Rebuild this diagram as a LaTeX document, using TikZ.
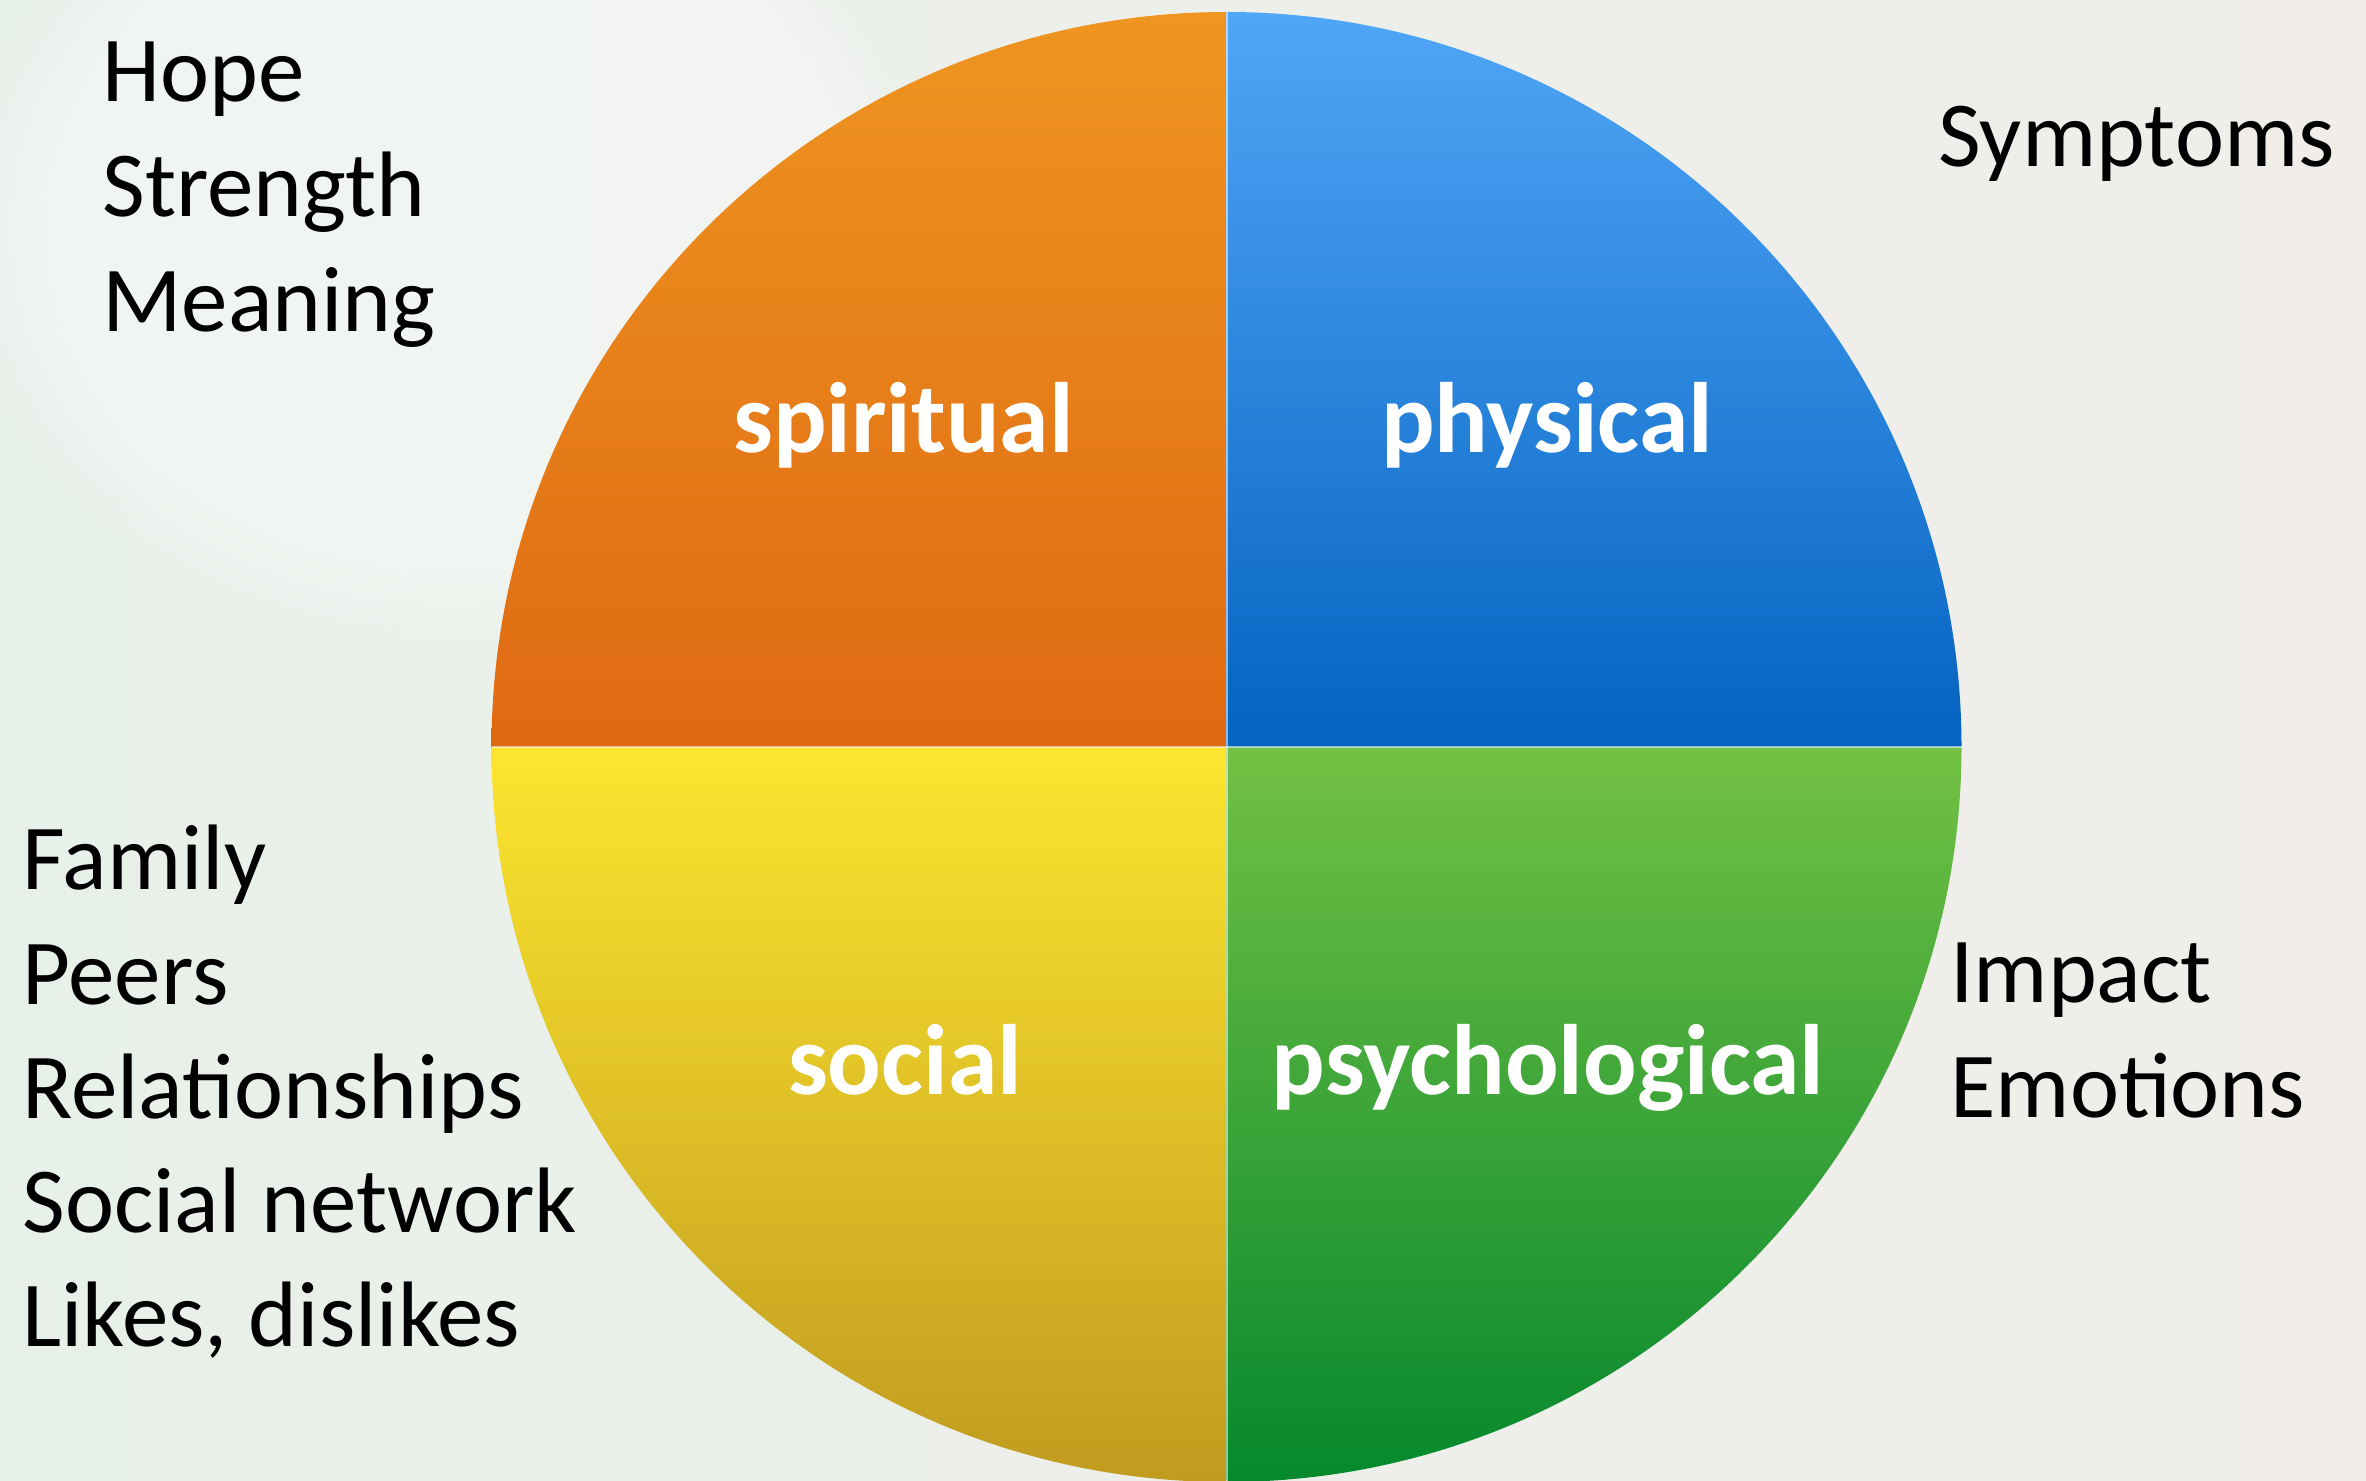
\documentclass[tikz,border=0pt]{standalone}
\usepackage{fontspec}
\setmainfont{Carlito}
\usetikzlibrary{calc,fadings}

\definecolor{bgA}{HTML}{E8F0EA}
\definecolor{bgB}{HTML}{F1EEEA}
\definecolor{orTop}{HTML}{EF9520}
\definecolor{orBot}{HTML}{DF6913}
\definecolor{blTop}{HTML}{50A6F7}
\definecolor{blBot}{HTML}{0463C1}
\definecolor{yeTop}{HTML}{FDE52F}
\definecolor{yeBot}{HTML}{C09B1F}
\definecolor{grTop}{HTML}{73C144}
\definecolor{grBot}{HTML}{05882D}

\tikzset{
  listitem/.style={anchor=base west, inner sep=0pt, text=black,
    font=\fontsize{46.5pt}{56pt}\selectfont},
  quadlabel/.style={anchor=base, inner sep=0pt, text=white,
    font=\fontsize{50pt}{60pt}\selectfont\bfseries},
  divider/.style={draw=white, draw opacity=0.55, line width=1pt}
}

\begin{document}
\begin{tikzpicture}[x=0.5pt, y=0.5pt]
  % page and faded backdrop
  \useasboundingbox (0,0) rectangle (2366,1480);
  \shade[left color=bgA, right color=bgB] (0,0) rectangle (2366,1480);
  \fill[white, opacity=0.35, path fading=circle with fuzzy edge 20 percent, fit fading=true]
    (450,1250) ellipse[x radius=500, y radius=420];

  % circle centre and radius
  \coordinate (c) at (1226.5,733);
  \def\rad{735}

  % four quadrants, each with its own vertical gradient
  \shade[top color=orTop, bottom color=orBot]
    (c) -- ++(-\rad,0) arc[start angle=180, end angle=90, radius=\rad] -- cycle;
  \shade[top color=blTop, bottom color=blBot]
    (c) -- ++(0,\rad) arc[start angle=90, end angle=0, radius=\rad] -- cycle;
  \shade[top color=yeTop, bottom color=yeBot]
    (c) -- ++(-\rad,0) arc[start angle=180, end angle=270, radius=\rad] -- cycle;
  \shade[top color=grTop, bottom color=grBot]
    (c) -- ++(0,-\rad) arc[start angle=270, end angle=360, radius=\rad] -- cycle;

  % thin separators between the quadrants
  \coordinate (ctop) at ($(c)+(0,\rad)$);
  \coordinate (cbot) at ($(c)+(0,-\rad)$);
  \coordinate (cleft) at ($(c)+(-\rad,0)$);
  \coordinate (cright) at ($(c)+(\rad,0)$);
  \draw[divider] (ctop) -- (cbot);
  \draw[divider] (cleft) -- (cright);

  % quadrant labels
  \node[quadlabel] (spiritual) at (903.5,1027) {spiritual};
  \node[quadlabel] (physical) at (1547,1027) {physical};
  \node[quadlabel] (social) at (905,386) {social};
  \node[quadlabel] (psychological) at (1548,386) {psychological};

  % spiritual aspects
  \node[listitem] (hope) at (102,1378) {Hope};
  \node[listitem] (strength) at (102,1263) {Strength};
  \node[listitem] (meaning) at (102,1148) {Meaning};

  % physical aspects
  \node[listitem] (symptoms) at (1938,1313) {Symptoms};

  % social aspects
  \node[listitem] (family) at (22,591) {Family};
  \node[listitem] (peers) at (22,476) {Peers};
  \node[listitem] (relationships) at (22,362) {Relationships};
  \node[listitem] (network) at (22,248) {Social network};
  \node[listitem] (likes) at (22,134) {Likes, dislikes};

  % psychological aspects
  \node[listitem] (impact) at (1950,478) {Impact};
  \node[listitem] (emotions) at (1950,363) {Emotions};
\end{tikzpicture}
\end{document}
